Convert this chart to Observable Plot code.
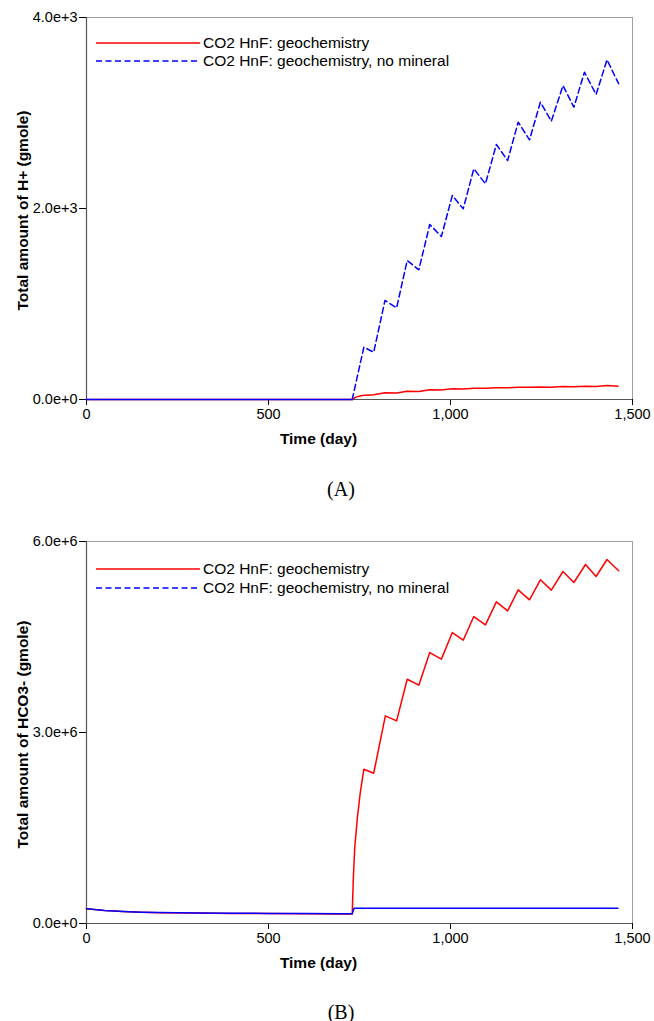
<!DOCTYPE html>
<html>
<head>
<meta charset="utf-8">
<script src="https://cdn.jsdelivr.net/npm/d3@7"></script>
<script src="https://cdn.jsdelivr.net/npm/@observablehq/plot@0.6"></script>
<style>
  html, body { margin: 0; padding: 0; background: #fff; }
  body { width: 654px; height: 1021px; position: relative; overflow: hidden; }
  .panel { position: absolute; left: 0; }
  .cap { position: absolute; left: 0; width: 682px; text-align: center;
         font-family: "Liberation Serif", "Times New Roman", serif; font-size: 20px; line-height: 24px; color: #000; }
</style>
</head>
<body>
<div id="pa" class="panel" style="top:0px"></div>
<div class="cap" style="top:477px">(A)</div>
<div id="pb" class="panel" style="top:524px"></div>
<div class="cap" style="top:1000px">(B)</div>
<script>
// ---------- data ----------
const seriesNames = ["CO2 HnF: geochemistry", "CO2 HnF: geochemistry, no mineral"];
const xTicks = [0, 500, 1000, 1500];

// Panel A: Total amount of H+ (gmole)
const aTicks = [0, 2000, 4000];
const aRedDay = [0, 730, 740, 757, 789, 820, 852, 881, 913, 943, 973, 1005, 1035, 1064, 1096, 1126, 1157, 1186, 1217, 1247, 1277, 1307, 1339, 1371, 1400, 1430, 1460];
const aRedVal = [0, 0, 25, 42, 49, 70, 68, 87, 84, 101, 100, 112, 110, 119, 117, 124, 122, 129, 127, 131, 129, 136, 133, 138, 136, 147, 140];
const aBlueDay = [0, 730, 762, 789, 820, 852, 881, 913, 943, 975, 1005, 1035, 1064, 1096, 1126, 1157, 1186, 1217, 1247, 1277, 1309, 1339, 1368, 1400, 1430, 1462];
const aBlueVal = [0, 0, 548, 495, 1037, 960, 1455, 1358, 1832, 1707, 2136, 1997, 2416, 2259, 2670, 2503, 2904, 2719, 3113, 2914, 3288, 3061, 3427, 3194, 3557, 3306];

// Panel B: Total amount of HCO3- (gmole)
const bTicks = [0, 3000000, 6000000];
const bRedDay = [0, 50, 100, 150, 200, 300, 400, 500, 600, 700, 730, 733, 737, 744, 752, 762, 789, 821, 852, 881, 913, 943, 975, 1005, 1035, 1064, 1096, 1126, 1157, 1186, 1217, 1247, 1277, 1309, 1339, 1371, 1400, 1430, 1462];
const bRedVal = [230000, 204000, 187000, 176000, 169000, 163000, 159000, 157000, 154000, 150000, 148000, 700000, 1200000, 1650000, 2050000, 2423000, 2360000, 3261000, 3182000, 3837000, 3743000, 4256000, 4152000, 4570000, 4450000, 4821000, 4691000, 5052000, 4911000, 5241000, 5084000, 5398000, 5236000, 5529000, 5356000, 5639000, 5450000, 5717000, 5540000];
const bBlueDay = [0, 50, 100, 150, 200, 300, 400, 500, 600, 700, 730, 735, 1460];
const bBlueVal = [232000, 206000, 189000, 178000, 171000, 165000, 161000, 159000, 157000, 155000, 154000, 239000, 239000];

const RED = "#ff0000", BLUE = "#0000ff";
const FONT = "'Liberation Sans', Arial, sans-serif";

function rows(days, vals) { return days.map((d, i) => ({day: d, v: vals[i]})); }

function panel({redRows, blueRows, blueDashFrom, yMax, yTicks, yLabel, legendY}) {
  const marks = [
    Plot.frame({stroke: "#a0a0a0", strokeWidth: 1}),
    Plot.axisX({ticks: xTicks, tickFormat: d3.format(","), tickSize: 6, tickPadding: 3, label: null, fontSize: 14.5}),
    Plot.axisY({ticks: yTicks, tickFormat: d3.format(".1e"), tickSize: 7, tickPadding: 2, label: null, fontSize: 14.5}),
    Plot.ruleX([0], {stroke: "#555", strokeWidth: 1.2}),
    Plot.ruleY([0], {stroke: "#555", strokeWidth: 1.2}),
    Plot.line(redRows, {x: "day", y: "v", stroke: RED, strokeWidth: 1.5}),
  ];
  if (blueDashFrom != null) {
    marks.push(Plot.line(blueRows.filter(d => d.day <= blueDashFrom), {x: "day", y: "v", stroke: BLUE, strokeWidth: 1.5}));
    marks.push(Plot.line(blueRows.filter(d => d.day >= blueDashFrom), {x: "day", y: "v", stroke: BLUE, strokeWidth: 1.5, strokeDasharray: "6,3.5"}));
  } else {
    marks.push(Plot.line(blueRows, {x: "day", y: "v", stroke: BLUE, strokeWidth: 1.5}));
  }
  marks.push(Plot.text([yLabel], {text: d => d, frameAnchor: "left", textAnchor: "middle", lineAnchor: "middle", dx: -63, dy: 2, rotate: -90, fontWeight: "bold", fontSize: 15.5, fill: "#000"}));
  marks.push(Plot.text(["Time (day)"], {text: d => d, frameAnchor: "bottom-left", textAnchor: "middle", lineAnchor: "middle", dx: 232, dy: 40, fontWeight: "bold", fontSize: 15.5, fill: "#000"}));

  const svg = Plot.plot({
    width: 654, height: 450,
    marginTop: 17, marginBottom: 51, marginLeft: 86, marginRight: 22,
    style: {fontFamily: FONT, fontSize: "14px", color: "#000", background: "transparent"},
    x: {domain: [0, 1500]},
    y: {domain: [0, yMax]},
    marks
  });
  // legend inside plot area
  const g = d3.select(svg).append("g").attr("font-family", FONT).attr("font-size", 15.5).attr("text-anchor", "start");
  const leg = [{c: RED, dash: null, y: legendY[0], t: seriesNames[0]}, {c: BLUE, dash: "6,3.5", y: legendY[1], t: seriesNames[1]}];
  leg.forEach(l => {
    g.append("line").attr("x1", 96).attr("x2", 200).attr("y1", l.y).attr("y2", l.y)
      .attr("stroke", l.c).attr("stroke-width", 1.5).attr("stroke-dasharray", l.dash);
    g.append("text").attr("x", 203).attr("y", l.y).attr("dy", "0.35em").attr("text-anchor", "start").attr("fill", "#000").text(l.t);
  });
  return svg;
}

document.getElementById("pa").appendChild(panel({
  redRows: rows(aRedDay, aRedVal), blueRows: rows(aBlueDay, aBlueVal), blueDashFrom: 730,
  yMax: 4000, yTicks: aTicks, yLabel: "Total amount of H+ (gmole)", legendY: [43, 61]
}));
document.getElementById("pb").appendChild(panel({
  redRows: rows(bRedDay, bRedVal), blueRows: rows(bBlueDay, bBlueVal), blueDashFrom: null,
  yMax: 6000000, yTicks: bTicks, yLabel: "Total amount of HCO3- (gmole)", legendY: [45, 64]
}));
</script>
</body>
</html>
